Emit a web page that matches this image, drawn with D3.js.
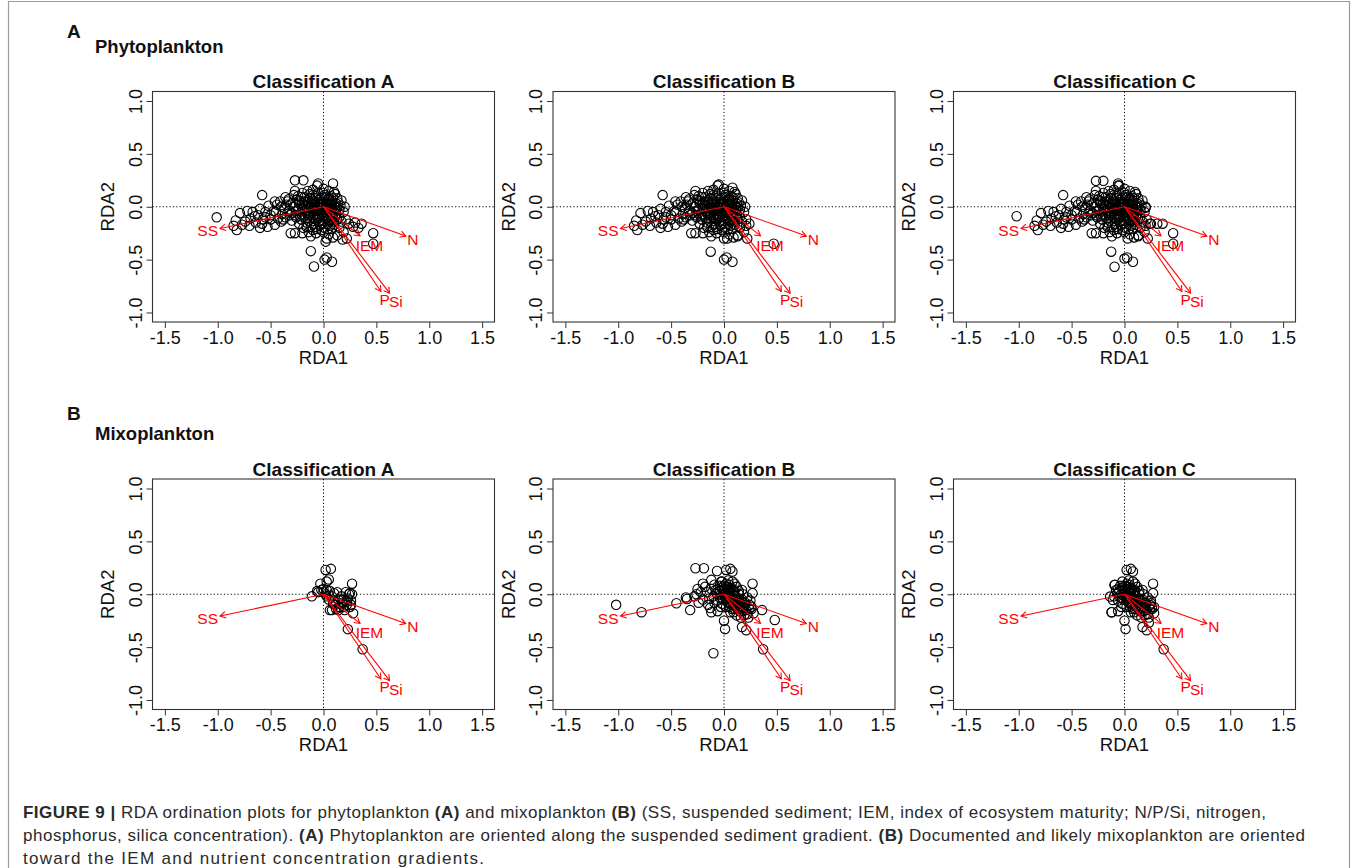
<!DOCTYPE html>
<html><head><meta charset="utf-8">
<script src="https://cdn.jsdelivr.net/npm/d3@7"></script>
<style>body{margin:0;background:#fff} svg{display:block}</style>
</head><body>
<svg id="fig" width="1358" height="868"></svg>
<script>
// ---------- data ----------
const xTicks = [-1.5, -1.0, -0.5, 0.0, 0.5, 1.0, 1.5];
const yTicks = [-1.0, -0.5, 0.0, 0.5, 1.0];
const classTitles = ["Classification A", "Classification B", "Classification C"];
const groupLetters = ["A", "B"];
const groupNames = ["Phytoplankton", "Mixoplankton"];

// biplot arrows (environmental variables), same in every panel
const envNames  = ["SS", "N", "IEM", "P", "Si"];
const envX      = [-0.978, 0.778, 0.345, 0.543, 0.625];
const envY      = [-0.206, -0.277, -0.276, -0.801, -0.817];
const envLabelX = [-1.095, 0.845, 0.435, 0.578, 0.685];
const envLabelY = [-0.227, -0.306, -0.363, -0.874, -0.896];

// site scores – phytoplankton (shared dense core + panel specific points)
const phytoCore = [
 [-0.28,0.11],[-0.21,0.09],[-0.13,0.12],[-0.07,0.10],[0.01,0.11],[0.05,0.08],[0.11,0.12],
 [-0.34,0.05],[-0.25,0.07],[-0.18,0.05],[-0.11,0.06],[-0.04,0.07],[0.03,0.05],[0.08,0.06],[0.14,0.04],
 [-0.31,0.02],[-0.23,0.03],[-0.14,0.02],[-0.08,0.03],[-0.01,0.02],[0.05,0.03],[0.10,0.01],
 [-0.37,-0.01],[-0.28,0.00],[-0.20,-0.01],[-0.12,0.00],[-0.05,-0.01],[0.02,0.00],[0.07,-0.02],[0.13,-0.01],
 [-0.33,-0.04],[-0.24,-0.03],[-0.17,-0.04],[-0.09,-0.03],[-0.03,-0.04],[0.04,-0.03],[0.10,-0.05],
 [-0.39,-0.07],[-0.30,-0.06],[-0.21,-0.07],[-0.13,-0.06],[-0.06,-0.07],[0.00,-0.06],[0.06,-0.08],[0.12,-0.07],
 [-0.26,-0.10],[-0.18,-0.09],[-0.10,-0.10],[-0.04,-0.09],[0.03,-0.11],[0.09,-0.10],
 [-0.30,-0.13],[-0.21,-0.12],[-0.14,-0.13],[-0.07,-0.12],[0.00,-0.13],[0.06,-0.14],[0.13,-0.12],
 [-0.23,-0.16],[-0.16,-0.15],[-0.09,-0.16],[-0.03,-0.17],[0.04,-0.16],[0.10,-0.17],
 [-0.19,-0.20],[-0.12,-0.19],[-0.06,-0.21],[0.01,-0.20],[0.08,-0.21],
 [-0.14,-0.24],[-0.07,-0.25],[0.00,-0.24],[0.05,-0.26],
 [-0.44,0.02],[-0.47,-0.04],[-0.43,-0.11],[-0.50,-0.08],[-0.52,0.01],[-0.55,-0.05],[-0.57,-0.12],
 [-0.60,-0.02],[-0.62,-0.08],[-0.64,-0.15],[-0.67,-0.05],[-0.69,-0.11],[-0.72,-0.04],[-0.74,-0.14],
 [-0.79,-0.06],[-0.77,-0.17],[-0.83,-0.13],[-0.85,-0.18],[-0.82,-0.22],[-0.60,-0.20],[-0.53,-0.19],
 [-0.46,-0.17],[-0.40,-0.14],[-0.36,-0.10],[-0.41,0.05],[-0.36,0.09],[-0.46,0.05],
 [-0.27,0.15],[-0.58,0.11],[-0.06,0.20],[-0.15,0.15],[-0.10,0.16],[0.00,0.17],[0.05,0.15],[0.10,0.14],[-0.20,0.13],
 [0.15,-0.10],[0.17,-0.14],[0.19,-0.05],[0.21,-0.12],[0.24,-0.16],[0.15,-0.20],[0.13,-0.27],[0.19,-0.24],
 [0.09,-0.29],[0.17,0.06],[0.20,0.00],[0.03,-0.30],[0.22,-0.30],[-0.31,-0.25],[-0.27,-0.25],[-0.20,-0.25],[-0.12,-0.28]
];
const phytoDense = [
 [-0.02,0.04],[0.02,-0.05],[-0.06,0.01],[0.04,0.07],[-0.10,-0.04],[0.06,-0.01],[-0.15,0.05],[-0.01,-0.10],
 [0.08,0.03],[-0.19,-0.02],[-0.04,-0.14],[0.09,-0.06],[-0.23,0.06],[-0.08,0.08],[0.01,0.09],[-0.12,-0.08],
 [0.05,-0.12],[-0.17,-0.11],[-0.26,-0.04],[0.11,-0.03],[-0.03,0.00],[0.00,0.03],[-0.07,-0.04],[0.03,0.02],
 [-0.09,0.05],[-0.14,-0.01],[-0.20,0.03],[-0.05,-0.11],[0.02,-0.08],[0.07,0.01],[-0.11,0.02],[-0.16,-0.06],
 [-0.22,-0.09],[-0.01,-0.16],[0.06,-0.18],[-0.08,-0.19],[-0.13,0.08],[-0.29,0.04],[-0.35,0.02],[-0.32,-0.08],
 [0.12,0.03],[0.08,-0.12],[-0.18,0.09],[-0.24,0.10],[-0.40,0.00],[-0.45,-0.05],[-0.38,-0.12],[0.10,-0.14],
 [0.04,-0.21],[-0.02,-0.22],[-0.10,-0.22],[-0.16,-0.19],[0.00,0.13],[-0.03,0.08],[0.07,0.10],[0.13,0.08],
 [0.15,-0.03],[0.16,0.01],[-0.50,-0.12],[-0.55,-0.10],[-0.65,-0.09],[-0.70,-0.18],[-0.58,-0.16],
 [-0.04,0.02],[0.01,-0.02],[-0.08,-0.01],[0.05,0.05],[-0.12,0.04],[-0.02,-0.07],[0.03,-0.06],[-0.06,-0.09],
 [-0.15,-0.08],[-0.18,0.01],[0.09,0.08],[-0.10,0.11],[-0.27,-0.08],[-0.33,0.07],[0.11,-0.10],[-0.05,0.13]
];
const phytoA_extra = [
 [-1.01,-0.10],[-0.27,0.25],[-0.19,0.25],[-0.05,0.22],[0.09,0.22],[-0.12,-0.42],[-0.09,-0.565],
 [0.01,-0.50],[0.03,-0.48],[0.08,-0.52],[0.02,-0.33],[0.18,-0.31],[0.36,-0.16],[0.30,-0.15],
 [0.28,-0.19],[0.47,-0.25],[0.47,-0.35],[0.33,-0.20]
];
const phytoB_extra = [
 [-0.05,0.21],[0.08,0.18],[-0.126,-0.425],[0.00,-0.50],[0.025,-0.48],[0.08,-0.52],[0.00,-0.30],
 [0.13,-0.28],[0.21,-0.18],[0.47,-0.35]
];
const phytoC_extra = [
 [-1.02,-0.09],[-0.27,0.245],[-0.20,0.245],[-0.06,0.22],[-0.05,0.20],[-0.126,-0.425],[-0.094,-0.567],
 [0.00,-0.49],[0.025,-0.48],[0.08,-0.52],[0.20,-0.01],[0.25,-0.16],[0.31,-0.16],[0.36,-0.16],
 [0.46,-0.25],[0.46,-0.35],[0.13,-0.28],[0.20,-0.18]
];

// site scores – mixoplankton
const mixoA = [
 [-0.11,-0.02],[-0.06,0.03],[-0.05,0.02],[-0.03,0.10],[-0.02,0.04],[0.02,0.23],[0.07,0.24],[0.03,0.12],
 [0.05,0.14],[0.00,0.05],[0.00,0.02],[0.02,0.00],[0.03,0.04],[0.06,0.03],[0.08,-0.02],[0.10,0.01],
 [0.13,0.02],[0.14,-0.05],[0.16,-0.09],[0.17,-0.02],[0.19,-0.12],[0.20,-0.15],[0.22,-0.07],[0.23,-0.04],
 [0.25,-0.12],[0.27,0.00],[0.25,0.01],[0.27,0.10],[0.24,0.00],[0.28,-0.18],[0.26,-0.10],[0.11,-0.10],
 [0.08,-0.15],[0.06,-0.15],[0.21,0.02],[0.23,-0.33],[0.37,-0.52],[0.10,-0.06],[0.12,-0.14],[0.15,-0.12],
 [0.19,-0.05],[0.03,-0.02],[0.05,-0.05],[0.09,-0.09],[0.14,-0.15],[0.18,-0.08],[0.22,-0.10],[0.26,-0.06]
];
const mixoCore = [
 [-0.10,-0.02],[-0.08,0.04],[-0.06,-0.06],[-0.04,0.08],[-0.03,0.00],[-0.02,-0.09],[0.00,0.05],[0.01,-0.03],
 [0.02,0.10],[0.03,-0.07],[0.04,0.02],[0.05,-0.12],[0.06,0.06],[0.07,-0.02],[0.08,-0.08],[0.09,0.03],
 [0.10,-0.14],[0.11,-0.05],[0.12,0.07],[0.13,-0.10],[0.14,0.00],[0.15,-0.16],[0.16,-0.06],[0.17,0.04],
 [0.18,-0.12],[0.19,-0.20],[0.20,-0.08],[0.21,-0.15],[0.22,-0.03],[0.23,-0.22],[0.24,-0.10],[0.25,-0.06],
 [0.26,-0.14],[0.27,0.01],[0.27,0.10],[0.28,-0.18],[0.26,-0.12],[0.06,-0.17],[-0.05,0.03],[0.00,0.00],
 [0.02,-0.02],[-0.01,0.02],[0.03,0.04],[0.05,-0.04],[-0.07,0.01],[0.10,0.10],[0.08,0.12],[-0.02,0.12],
 [0.04,0.13],[-0.12,-0.17],[-0.06,-0.16],[0.00,-0.25],[0.01,-0.33],[0.17,-0.31],[0.21,-0.34],[0.37,-0.52],
 [0.02,0.23],[0.06,0.24],[0.08,0.215],[-0.09,0.09],[0.12,-0.20],[0.16,-0.22],[0.08,-0.14],[0.14,-0.04],
 [0.18,0.00],[0.20,-0.10],
 [0.01,0.01],[0.03,-0.01],[0.05,0.01],[0.02,-0.05],[0.06,-0.04],[0.04,-0.08],[0.08,0.00],[0.09,-0.05],
 [0.11,-0.02],[0.12,-0.08],[0.07,-0.10],[0.13,-0.05],[0.15,-0.08],[0.16,-0.11],[0.10,0.04],[0.06,0.03],
 [-0.01,-0.05],[-0.04,-0.03],[-0.02,0.06],[0.03,0.07],[0.07,0.05],[0.14,0.03],[0.17,-0.05],[0.19,-0.13],
 [0.11,-0.11],[0.09,-0.17],[0.02,-0.12],[-0.03,-0.12],[0.13,-0.14],[0.18,-0.16],[0.22,-0.19],[0.24,-0.14],
 [-0.06,0.05],[0.00,0.08],[0.05,0.09]
];
const mixoB_extra = [
 [-1.02,-0.10],[-0.78,-0.17],[-0.45,-0.085],[-0.36,-0.03],[-0.35,-0.045],[-0.32,-0.15],[-0.27,0.246],
 [-0.19,0.246],[-0.066,0.22],[-0.12,0.136],[-0.025,0.12],[-0.10,-0.558],[0.48,-0.243],[0.36,-0.15],
 [-0.25,0.05],[-0.22,0.02],[-0.20,-0.05],[-0.24,-0.08],[-0.18,0.07],[-0.15,-0.10],[-0.26,0.00],[-0.28,-0.02],
 [-0.16,0.02],[-0.14,-0.04],[-0.12,0.05],[-0.20,0.10],[-0.09,-0.08],[-0.13,-0.13]
];
const mixoC_extra = [
 [-0.136,-0.022],[-0.11,-0.054],[-0.123,-0.17],[-0.095,0.088],[0.23,-0.27],[0.25,-0.085],[0.28,-0.12]
];

const captionLines = [
 [["FIGURE 9 |", true], [" RDA ordination plots for phytoplankton ", false], ["(A)", true], [" and mixoplankton ", false], ["(B)", true], [" (SS, suspended sediment; IEM, index of ecosystem maturity; N/P/Si, nitrogen,", false]],
 [["phosphorus, silica concentration). ", false], ["(A)", true], [" Phytoplankton are oriented along the suspended sediment gradient. ", false], ["(B)", true], [" Documented and likely mixoplankton are oriented", false]],
 [["toward the IEM and nutrient concentration gradients.", false]]
];

// ---------- layout ----------
const FONT = "'Liberation Sans', Arial, Helvetica, sans-serif";
const colLeft = [152.5, 553, 953.5];
const rowTop = [91.5, 479];
const W = 342, H = 230.5;

const panels = [
 {row:0, col:0, pts: phytoCore.concat(phytoDense, phytoA_extra)},
 {row:0, col:1, pts: phytoCore.concat(phytoDense, phytoB_extra)},
 {row:0, col:2, pts: phytoCore.concat(phytoDense, phytoC_extra)},
 {row:1, col:0, pts: mixoA},
 {row:1, col:1, pts: mixoCore.concat(mixoB_extra)},
 {row:1, col:2, pts: mixoCore.concat(mixoC_extra)}
];

const svg = d3.select("#fig");
svg.append("rect").attr("width",1358).attr("height",868).attr("fill","#fff");
svg.append("path").attr("d","M8.5,868 V1.5 H1349.5 V868")
  .attr("fill","none").attr("stroke","#9c9c9c").attr("stroke-width",1.2);

// group labels
const groupLetterY = [38, 420], groupNameY = [52.5, 439.5];
groupLetters.forEach((g,i) => {
  svg.append("text").attr("x",67).attr("y",groupLetterY[i]).text(g)
    .attr("font-family",FONT).attr("font-weight","bold").attr("font-size",19).attr("fill","#111");
  svg.append("text").attr("x",95).attr("y",groupNameY[i]).text(groupNames[i])
    .attr("font-family",FONT).attr("font-weight","bold").attr("font-size",18.5).attr("fill","#111");
});

const x = d3.scaleLinear().domain([-1.617, 1.617]).range([0, W]);
const y = d3.scaleLinear().domain([-1.09, 1.09]).range([H, 0]);
const fmt = d => d.toFixed(1);

panels.forEach(p => {
  const g = svg.append("g").attr("transform", `translate(${colLeft[p.col]},${rowTop[p.row]})`);

  g.append("text").attr("x", W/2).attr("y", -3.5).attr("text-anchor","middle")
    .attr("font-family",FONT).attr("font-weight","bold").attr("font-size",19).attr("fill","#111")
    .text(classTitles[p.col]);

  // axes
  const ax = g.append("g").attr("transform",`translate(0,${H})`)
    .call(d3.axisBottom(x).tickValues(xTicks).tickSize(6).tickPadding(3).tickFormat(fmt));
  ax.select(".domain").remove();
  ax.selectAll(".tick line").attr("stroke","#333");
  ax.selectAll(".tick text").attr("font-family",FONT).attr("font-size",18).attr("fill","#111");

  const ay = g.append("g")
    .call(d3.axisLeft(y).tickValues(yTicks).tickSize(6).tickFormat(fmt));
  ay.select(".domain").remove();
  ay.selectAll(".tick line").attr("stroke","#333");
  ay.selectAll(".tick text").attr("font-family",FONT).attr("font-size",18).attr("fill","#111")
    .attr("transform","rotate(-90)").attr("x",0).attr("y",-11).attr("dy",0).attr("text-anchor","middle");

  g.append("text").attr("x",W/2).attr("y",H+41.5).attr("text-anchor","middle")
    .attr("font-family",FONT).attr("font-size",18.5).attr("fill","#111").text("RDA1");
  g.append("text").attr("transform",`translate(-38.5,${H/2}) rotate(-90)`).attr("text-anchor","middle")
    .attr("font-family",FONT).attr("font-size",18.5).attr("fill","#111").text("RDA2");

  // box
  g.append("rect").attr("x",0).attr("y",0).attr("width",W).attr("height",H)
    .attr("fill","none").attr("stroke","#333").attr("stroke-width",1.1);

  // dotted reference lines
  g.append("line").attr("x1",0).attr("x2",W).attr("y1",y(0)).attr("y2",y(0))
    .attr("stroke","#000").attr("stroke-dasharray","1.2,2.2").attr("stroke-width",1);
  g.append("line").attr("x1",x(0)).attr("x2",x(0)).attr("y1",0).attr("y2",H)
    .attr("stroke","#000").attr("stroke-dasharray","1.2,2.2").attr("stroke-width",1);

  // sites
  g.append("g").selectAll("circle").data(p.pts).join("circle")
    .attr("cx", d => x(d[0])).attr("cy", d => y(d[1])).attr("r", 4.7)
    .attr("fill","none").attr("stroke","#000").attr("stroke-width",1.1);

  // arrows
  const arr = g.append("g").attr("stroke","#ff0000").attr("fill","none").attr("stroke-width",1.1);
  envNames.forEach((n,i) => {
    const x0 = x(0), y0 = y(0), x1 = x(envX[i]), y1 = y(envY[i]);
    const a = Math.atan2(y1 - y0, x1 - x0), L = 6.5, s = Math.PI/6;
    arr.append("line").attr("x1",x0).attr("y1",y0).attr("x2",x1).attr("y2",y1);
    arr.append("path").attr("d",
      `M${x1 - L*Math.cos(a - s)},${y1 - L*Math.sin(a - s)} L${x1},${y1} L${x1 - L*Math.cos(a + s)},${y1 - L*Math.sin(a + s)}`);
    g.append("text").attr("x", x(envLabelX[i])).attr("y", y(envLabelY[i])).attr("dy","0.36em")
      .attr("text-anchor","middle").attr("font-family",FONT).attr("font-size",15.5)
      .attr("fill","#ff0000").text(n);
  });
});

// caption
const capY = [818, 841, 863.5];
const capLen = [1243, 1282, 461];
captionLines.forEach((line,i) => {
  const t = svg.append("text").attr("x",23).attr("y",capY[i])
    .attr("font-family",FONT).attr("font-size",17).attr("fill","#2a2a2a")
    .attr("textLength",capLen[i]).attr("lengthAdjust","spacing");
  line.forEach(([s,b]) => t.append("tspan").attr("font-weight", b ? "bold" : "normal").text(s));
});
</script>
</body></html>
